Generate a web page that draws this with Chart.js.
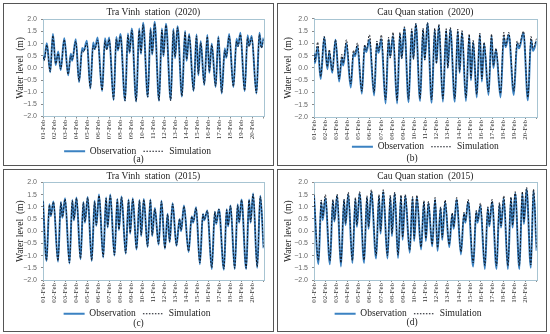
<!DOCTYPE html>
<html>
<head>
<meta charset="utf-8">
<script src="https://cdn.jsdelivr.net/npm/chart.js@4.4.0/dist/chart.umd.min.js"></script>
<style>
  html, body { margin: 0; padding: 0; background: #fff; }
  body { width: 550px; height: 334px; position: relative; overflow: hidden; }
  .panel { position: absolute; border: 1px solid #555; box-sizing: border-box; }
  .panel canvas { display: block; }
</style>
</head>
<body>
<div class="panel" style="left:3px;top:3px;width:271px;height:163px"><canvas id="chartA" width="269" height="161"></canvas></div>
<div class="panel" style="left:277px;top:3px;width:270px;height:163px"><canvas id="chartB" width="268" height="161"></canvas></div>
<div class="panel" style="left:3px;top:169px;width:271px;height:163px"><canvas id="chartC" width="269" height="161"></canvas></div>
<div class="panel" style="left:277px;top:169px;width:270px;height:163px"><canvas id="chartD" width="268" height="161"></canvas></div>
<script>
// days since 01-Feb 00:00 of each high / low water, plus levels (m)
const traVinh2020Time = [0.00,0.10,0.35,0.65,0.90, 1.15,1.38,1.60,1.93,2.28, 2.52,2.65,2.97,3.27,3.55, 3.68,3.98,4.29,4.55,4.70,
  4.95,5.36,5.62,5.78,6.00, 6.40,6.65,6.80,7.02,7.44, 7.70,7.85,8.05,8.45,8.72, 8.88,9.08,9.50,9.75,9.90,
  10.12,10.52,10.78,10.92,11.15, 11.58,11.82,11.97,12.20,12.60, 12.88,13.02,13.25,13.65,13.92, 14.08,14.30,14.62,14.90,15.08,
  15.30,15.65,15.90,16.20,16.48, 16.62,16.88,17.26,17.55,17.68, 17.90,18.28,18.55,18.68,18.92, 19.35,19.62,19.80,20.00];
const traVinh2020Obs = [0.50,0.35,1.02,-0.18,1.40, 0.12,0.68,-0.08,1.22,-0.30, 0.58,0.30,1.18,-0.58,0.82, 0.70,1.12,-0.85,1.05,0.78,
  1.25,-0.95,1.22,0.78,1.25, -1.32,1.28,0.72,1.40,-1.35, 1.42,0.62,1.62,-1.38,1.62, 0.58,1.86,-1.20,1.65,0.55,
  1.90,-1.35,1.62,0.48,1.82, -1.32,1.60,0.40,1.72,-1.18, 1.52,0.30,1.40,-0.95,1.38, -0.30,1.10,-0.70,1.36,-0.20,
  1.00,-0.78,1.30,-1.05,0.80, 0.42,1.40,-0.78,1.20,0.90, 1.45,-0.95,1.35,0.92,1.32, -1.05,1.45,0.85,1.25];
const traVinh2020Sim = [0.45,0.30,0.95,-0.15,1.33, 0.18,0.60,-0.05,1.16,-0.26, 0.50,0.35,1.10,-0.55,0.72, 0.66,1.02,-0.83,0.92,0.76,
  1.15,-0.93,1.12,0.74,1.18, -1.30,1.20,0.75,1.32,-1.35, 1.35,0.66,1.55,-1.38,1.55, 0.62,1.78,-1.20,1.58,0.60,
  1.83,-1.35,1.56,0.54,1.76, -1.35,1.54,0.46,1.66,-1.16, 1.46,0.36,1.34,-0.93,1.32, -0.25,1.04,-0.68,1.30,-0.15,
  0.95,-0.75,1.24,-1.02,0.72, 0.45,1.32,-0.76,1.10,0.88, 1.38,-0.93,1.25,0.88,1.25, -1.03,1.38,0.82,1.18];

const cauQuan2020Time = [0.00,0.08,0.33,0.60,0.92, 1.20,1.37,1.64,1.93,2.26, 2.50,2.63,2.91,3.30,3.55, 3.68,3.90,4.30,4.55,4.70,
  4.98,5.40,5.65,5.80,6.05, 6.43,6.70,6.85,7.10,7.47, 7.72,7.88,8.12,8.50,8.78, 8.93,9.15,9.53,9.80,9.95,
  10.20,10.57,10.85,11.00,11.22, 11.58,11.88,12.02,12.25,12.65, 12.92,13.08,13.30,13.65,13.95, 14.10,14.30,14.62,14.90,15.08,
  15.28,15.68,15.95,16.12,16.35, 16.76,17.05,17.22,17.50,17.95, 18.25,18.42,18.82,19.22,19.50, 19.68,20.00];
const cauQuan2020Obs = [0.60,0.20,0.85,-0.45,1.25, -0.05,0.65,-0.20,1.15,-0.55, 0.40,0.10,1.00,-0.80,0.60, 0.48,0.88,-1.05,0.90,0.65,
  1.15,-1.12,1.00,0.62,1.18, -1.45,1.15,0.48,1.30,-1.45, 1.38,0.40,1.62,-1.40,1.52, 0.38,1.78,-1.35,1.55,0.35,
  1.82,-1.42,1.55,0.20,1.72, -1.38,1.52,0.00,1.58,-1.38, 1.50,-0.20,1.45,-1.35,1.30, -0.50,1.05,-1.20,1.35,-0.55,
  1.00,-1.10,1.30,0.00,0.75, -1.20,1.25,0.85,1.35,-1.10, 1.00,0.80,1.42,-1.32,1.15, 0.70,1.10];
const cauQuan2020Sim = [0.55,0.25,1.05,-0.35,1.28, 0.05,0.75,-0.12,1.15,-0.45, 0.55,0.20,1.15,-0.65,0.72, 0.55,1.02,-0.95,0.95,0.72,
  1.35,-1.00,1.10,0.70,1.35, -1.30,1.25,0.40,1.45,-1.32, 1.45,0.38,1.68,-1.28,1.60, 0.35,1.82,-1.25,1.62,0.32,
  1.85,-1.30,1.62,0.18,1.78, -1.25,1.60,0.00,1.65,-1.25, 1.58,-0.15,1.52,-1.22,1.38, -0.42,1.12,-1.08,1.42,-0.45,
  1.05,-0.98,1.38,0.10,0.80, -1.05,1.45,0.90,1.45,-0.95, 1.10,0.88,1.50,-1.20,1.28, 0.80,1.20];

const traVinh2015Time = [0.00,0.32,0.58,0.70,0.95, 1.36,1.62,1.76,2.00,2.40, 2.66,2.80,3.04,3.40,3.66, 3.80,4.05,4.42,4.68,4.83,
  5.08,5.46,5.72,5.86,6.10, 6.48,6.74,6.88,7.12,7.50, 7.76,7.90,8.14,8.48,8.75, 8.90,9.14,9.48,9.74,9.90,
  10.14,10.48,10.74,11.05,11.30, 11.48,11.75,12.10,12.38,12.52, 12.78,13.20,13.48,13.62,13.88, 14.22,14.50,14.62,14.90,15.30,
  15.58,15.70,15.95,16.40,16.65, 16.78,17.00,17.38,17.65,17.78, 18.00,18.42,18.68,18.82,19.05, 19.42,19.70,20.00];
const traVinh2015Obs = [1.25,-1.22,1.10,0.62,1.22, -1.25,1.20,0.55,1.35,-1.32, 1.28,0.45,1.38,-1.15,1.20, 0.35,1.40,-1.22,1.25,0.22,
  1.50,-1.08,1.38,0.15,1.50, -1.00,1.32,0.05,1.42,-0.92, 1.30,-0.10,1.35,-0.75,1.28, -0.20,1.32,-0.65,1.30,-0.20,
  0.95,-0.55,1.25,-0.72,0.72, -0.45,1.15,-0.60,0.50,0.00, 1.05,-0.85,0.60,0.35,0.98, -1.35,0.70,0.45,0.85,-1.55,
  0.80,0.30,0.90,-1.58,0.90, 0.20,1.05,-1.55,1.10,0.35, 1.30,-1.55,1.30,0.35,1.55, -1.50,1.45,-0.70];
const traVinh2015Sim = [1.22,-1.20,1.08,0.65,1.20, -1.22,1.18,0.58,1.32,-1.30, 1.25,0.48,1.35,-1.12,1.18, 0.38,1.38,-1.20,1.22,0.25,
  1.46,-1.05,1.35,0.18,1.46, -0.98,1.30,0.08,1.40,-0.90, 1.28,-0.06,1.32,-0.72,1.26, -0.16,1.30,-0.62,1.28,-0.16,
  0.92,-0.52,1.22,-0.70,0.70, -0.42,1.12,-0.58,0.50,0.04, 1.02,-0.82,0.60,0.38,0.96, -1.30,0.70,0.48,0.84,-1.50,
  0.80,0.34,0.90,-1.54,0.88, 0.24,1.04,-1.52,1.08,0.38, 1.28,-1.52,1.28,0.38,1.52, -1.46,1.42,-0.66];

const cauQuan2015Time = [0.00,0.40,0.65,0.78,1.02, 1.43,1.70,1.83,2.08,2.42, 2.70,2.83,3.08,3.45,3.72, 3.85,4.10,4.50,4.76,4.90,
  5.15,5.58,5.84,5.98,6.22, 6.60,6.86,7.00,7.25,7.55, 7.82,7.96,8.20,8.60,8.86, 9.00,9.24,9.62,9.88,10.05,
  10.28,10.62,10.88,11.10,11.38, 11.52,11.78,12.15,12.42,12.55, 12.82,13.20,13.48,13.60,13.85, 14.30,14.58,14.70,14.95,15.35,
  15.62,15.75,16.00,16.40,16.66, 16.80,17.05,17.42,17.70,17.84, 18.08,18.45,18.72,18.86,19.10, 19.48,19.72,20.00];
const cauQuan2015Obs = [1.45,-1.35,1.20,0.45,1.35, -1.35,1.25,0.40,1.45,-1.45, 1.28,0.25,1.50,-1.30,1.32, 0.18,1.55,-1.30,1.38,0.10,
  1.60,-1.12,1.42,-0.10,1.62, -1.12,1.40,-0.20,1.55,-1.10, 1.42,-0.35,1.45,-0.88,1.35, -0.40,1.40,-0.75,1.20,-0.40,
  1.15,-0.62,1.30,-0.80,0.95, -0.35,1.20,-0.65,0.70,0.10, 1.30,-0.95,0.72,0.35,1.20, -1.45,0.80,0.35,1.05,-1.55,
  0.95,0.20,1.20,-1.55,1.10, 0.15,1.35,-1.55,1.35,0.15, 1.55,-1.55,1.55,0.30,1.72, -1.50,1.65,-0.80];
const cauQuan2015Sim = [1.50,-1.20,1.28,0.55,1.50, -1.22,1.30,0.45,1.52,-1.30, 1.32,0.32,1.60,-1.20,1.38, 0.25,1.62,-1.18,1.45,0.18,
  1.70,-1.00,1.50,0.00,1.70, -1.00,1.48,-0.10,1.60,-0.98, 1.48,-0.25,1.50,-0.78,1.42, -0.30,1.48,-0.65,1.25,-0.30,
  1.22,-0.55,1.38,-0.68,1.00, -0.25,1.28,-0.55,0.75,0.18, 1.38,-0.85,0.78,0.42,1.30, -1.30,0.85,0.42,1.15,-1.40,
  1.00,0.28,1.30,-1.42,1.18, 0.22,1.45,-1.42,1.40,0.25, 1.62,-1.42,1.62,0.40,1.80, -1.38,1.72,-0.70];

const dayLabels = ["01-Feb","02-Feb","03-Feb","04-Feb","05-Feb","06-Feb","07-Feb","08-Feb","09-Feb","10-Feb",
  "11-Feb","12-Feb","13-Feb","14-Feb","15-Feb","16-Feb","17-Feb","18-Feb","19-Feb","20-Feb"];
const yTicks = [-2.0, -1.5, -1.0, -0.5, 0.0, 0.5, 1.0, 1.5, 2.0];

const serif = "'Liberation Serif', 'Times New Roman', serif";
const frameColor = "#a7c4d2";
Chart.defaults.font.family = serif;

// plot-area frame (the Excel-style box round the data)
const frameBox = {
  id: "frameBox",
  beforeDatasetsDraw(chart) {
    const a = chart.chartArea;
    const ctx = chart.ctx;
    ctx.save();
    ctx.strokeStyle = frameColor;
    ctx.lineWidth = 1;
    ctx.strokeRect(Math.round(a.left) + 0.5, Math.round(a.top) + 0.5,
      Math.round(a.right - a.left), Math.round(a.bottom - a.top));
    ctx.restore();
  }
};

// "(a)" style caption under the legend
const caption = {
  id: "caption",
  afterDraw(chart, args, opts) {
    const ctx = chart.ctx;
    ctx.save();
    ctx.fillStyle = "#222";
    ctx.font = "9.5px " + serif;
    ctx.textAlign = "center";
    ctx.textBaseline = "middle";
    ctx.fillText(opts.text, chart.width / 2, opts.y);
    ctx.restore();
  }
};

// keep Observation first and leave a gap before the dotted Simulation sample
function legendItems(chart) {
  return Chart.defaults.plugins.legend.labels.generateLabels(chart)
    .sort((a, b) => a.datasetIndex - b.datasetIndex)
    .map(item => item.datasetIndex === 0
      ? { ...item, text: item.text + "   " }
      : { ...item, lineDash: [1.5, 1.5] });
}

function makeChart(id, title, tag, times, obs, sim, lay) {
  const pts = vals => times.map((t, i) => ({ x: t, y: vals[i] }));
  return new Chart(document.getElementById(id), {
    type: "line",
    data: {
      datasets: [
        { label: "Observation", data: pts(obs), borderColor: "#3b82c2", borderWidth: 2, order: 1,
          pointRadius: 0, cubicInterpolationMode: "monotone" },
        { label: "Simulation", data: pts(sim), borderColor: "#10131c", borderWidth: 1, order: 0,
          borderDash: [2, 1.5], pointRadius: 0, cubicInterpolationMode: "monotone" }
      ]
    },
    options: {
      responsive: false,
      animation: false,
      devicePixelRatio: 1,
      layout: { padding: { left: lay.padLeft, right: lay.padRight, top: 0, bottom: lay.padBottom } },
      plugins: {
        title: { display: true, text: title, fullSize: false, color: "#222",
          font: { family: serif, size: 9.5, weight: "normal" }, padding: { top: lay.titleTop, bottom: lay.titleBottom } },
        legend: {
          position: "bottom", fullSize: lay.legendFull,
          labels: { usePointStyle: true, pointStyle: "line", pointStyleWidth: 21, boxHeight: 8,
            color: "#222", font: { family: serif, size: 9.5 }, padding: 0, generateLabels: legendItems }
        },
        caption: { text: tag, y: lay.captionY },
        tooltip: { enabled: false }
      },
      scales: {
        x: {
          type: "linear", min: 0, max: 20,
          afterFit: axis => { axis.height = lay.xHeight; },
          border: { color: frameColor },
          grid: { drawOnChartArea: false, drawTicks: true, tickLength: 2, color: "#8a8a8a" },
          ticks: {
            stepSize: 1, autoSkip: false, maxRotation: 90, minRotation: 90, padding: 1,
            color: "#333", font: { family: serif, size: 7 },
            callback: v => dayLabels[v] || ""
          }
        },
        y: {
          min: -2, max: 2,
          afterBuildTicks: axis => { axis.ticks = yTicks.map(v => ({ value: v })); },
          afterFit: axis => { axis.width = 36; },
          border: { color: frameColor },
          grid: { drawOnChartArea: false, drawTicks: true, tickLength: 2, color: "#8a8a8a" },
          title: { display: true, text: "Water level  (m)", color: "#222",
            font: { family: serif, size: 9.5 }, padding: { top: lay.yTitlePad, bottom: 0 } },
          ticks: {
            padding: 4, color: "#666", font: { family: "'Liberation Sans', sans-serif", size: 7 },
            callback: v => v.toFixed(1).replace("-", "\u2212")
          }
        }
      }
    },
    plugins: [frameBox, caption]
  });
}

makeChart("chartA", "Tra Vinh  station  (2020)", "(a)", traVinh2020Time, traVinh2020Obs, traVinh2020Sim,
  { padLeft: 3, padRight: 5, padBottom: -1, titleTop: 3, titleBottom: 1, xHeight: 30, yTitlePad: 8, legendFull: true, captionY: 155.5 });
makeChart("chartB", "Cau Quan station  (2020)", "(b)", cauQuan2020Time, cauQuan2020Obs, cauQuan2020Sim,
  { padLeft: 0, padRight: 8, padBottom: 3.5, titleTop: 2.5, titleBottom: 1, xHeight: 25, yTitlePad: 5, legendFull: false, captionY: 154 });
makeChart("chartC", "Tra Vinh  station  (2015)", "(c)", traVinh2015Time, traVinh2015Obs, traVinh2015Sim,
  { padLeft: 3, padRight: 6, padBottom: 2.5, titleTop: 1, titleBottom: 0, xHeight: 29, yTitlePad: 8, legendFull: true, captionY: 153 });
makeChart("chartD", "Cau Quan station  (2015)", "(d)", cauQuan2015Time, cauQuan2015Obs, cauQuan2015Sim,
  { padLeft: 0, padRight: 8, padBottom: 2.5, titleTop: 1, titleBottom: 0, xHeight: 29, yTitlePad: 5, legendFull: true, captionY: 152.5 });
</script>
</body>
</html>
